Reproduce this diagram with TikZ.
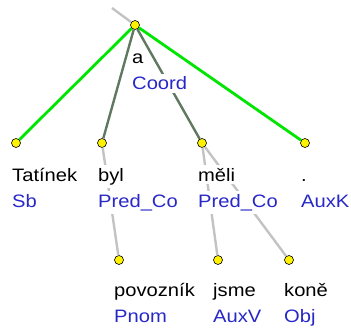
\documentclass[tikz,border=0pt]{standalone}
\usepackage{fontspec}
\setmainfont{Liberation Sans}[FakeStretch=1.12]
\usetikzlibrary{positioning}
\definecolor{tagblue}{RGB}{40,40,200}
\definecolor{coordgreen}{RGB}{0,230,0}
\definecolor{memberdark}{RGB}{95,120,95}
\definecolor{edgegray}{RGB}{195,195,195}
\begin{document}
\begin{tikzpicture}
        [x=1pt, y=-1pt,
        dot/.style={circle, draw=black, fill=yellow, inner sep=0pt, minimum size=9pt, line width=0.6pt},
        coordedge/.style={coordgreen, line width=2.8pt},
        memberedge/.style={memberdark, line width=2.4pt},
        edge/.style={edgegray, line width=2.4pt},
        word/.style={fill=white, inner xsep=1pt, inner ysep=3pt, anchor=base west, font=\fontsize{18}{22}\selectfont},
        tag/.style={word, text=tagblue}]

        \useasboundingbox (0,0) rectangle (351,329);

        % tree nodes
        \coordinate (up) at (112,8);
        \node[dot] (a) at (135,25) {};
        \node[dot] (tatinek) at (16,143) {};
        \node[dot] (byl) at (102,143) {};
        \node[dot] (meli) at (202,143) {};
        \node[dot] (tecka) at (305,143) {};
        \node[dot] (povoznik) at (119,260) {};
        \node[dot] (jsme) at (218,260) {};
        \node[dot] (kone) at (289,260) {};

        % coordination edges (green)
        \draw[coordedge] (a) -- (tatinek);
        \draw[coordedge] (a) -- (tecka);

        % members of the coordination
        \draw[memberedge] (a) -- (byl);
        \draw[memberedge] (a) -- (meli);

        % ordinary edges (gray)
        \draw[edge] (up) -- (a);
        \draw[edge] (byl) -- (povoznik);
        \draw[edge] (meli) -- (jsme);
        \draw[edge] (meli) -- (kone);

        % labels: word form and afun
        \node[word] (a-w) at (131,64) {a};
        \node[tag] (a-t) at (131,90) {Coord};
        \node[word] (tatinek-w) at (11,181) {Tatínek};
        \node[tag] (tatinek-t) at (11,207) {Sb};
        \node[word] (byl-w) at (97,181) {byl};
        \node[tag] (byl-t) at (97,207) {Pred\_Co};
        \node[word] (meli-w) at (197,181) {měli};
        \node[tag] (meli-t) at (197,207) {Pred\_Co};
        \node[word] (tecka-w) at (300,181) {.};
        \node[tag] (tecka-t) at (300,207) {AuxK};
        \node[word] (povoznik-w) at (113,296) {povozník};
        \node[tag] (povoznik-t) at (113,322) {Pnom};
        \node[word] (jsme-w) at (212,296) {jsme};
        \node[tag] (jsme-t) at (212,322) {AuxV};
        \node[word] (kone-w) at (283,296) {koně};
        \node[tag] (kone-t) at (283,322) {Obj};

    \end{tikzpicture}
\end{document}
